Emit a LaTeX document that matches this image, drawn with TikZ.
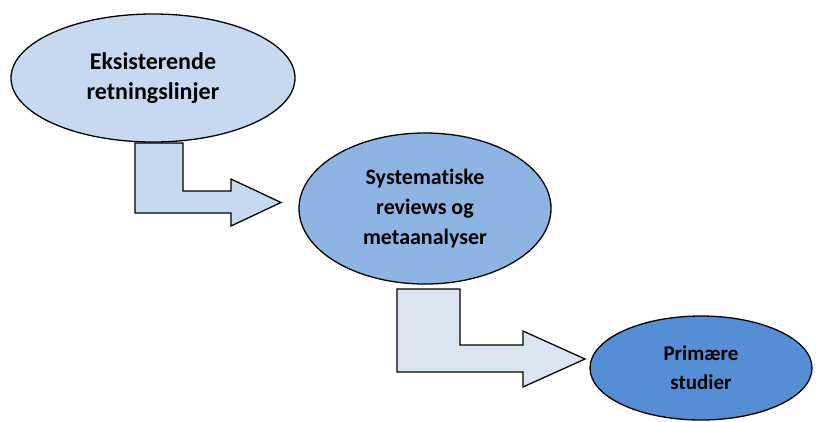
\documentclass[tikz,border=0pt]{standalone}
\usepackage{fontspec}
\setmainfont[Ligatures=CommonOff]{Carlito}
\usetikzlibrary{shapes.geometric}
\definecolor{eone}{HTML}{C6D9F1}
\definecolor{etwo}{HTML}{8EB4E3}
\definecolor{ethree}{HTML}{558ED5}
\definecolor{atwo}{HTML}{DBE5F1}
\tikzset{
  oval/.style={ellipse, draw=black, line width=1.3pt, inner sep=0pt, align=center,
    font=\bfseries\fontsize{21}{29}\selectfont},
  blockarrow/.style={draw=black, line width=1.3pt, line join=miter}
}
\begin{document}
\begin{tikzpicture}[x=1pt,y=-1pt]
\useasboundingbox (0,0) rectangle (816,421);
% block arrows (drawn first, under the ellipses)
\draw[blockarrow, fill=eone] (135,143) -- (135,213) -- (231,213) -- (231,226) -- (281,202.5) -- (231,179) -- (231,191) -- (183,191) -- (183,143) -- cycle;
\draw[blockarrow, fill=atwo] (397,289) -- (397,372) -- (523,372) -- (523,387) -- (585,359) -- (523,331) -- (523,345) -- (460,345) -- (460,289) -- cycle;
% ellipses
\node[oval, fill=eone, minimum width=284pt, minimum height=128pt, font=\bfseries\fontsize{24}{30}\selectfont] (e1) at (153,78) {Eksisterende\\retningslinjer};
\node[oval, fill=etwo, minimum width=252pt, minimum height=151pt, font=\bfseries\fontsize{22}{30}\selectfont] (e2) at (425,208.5) {Systematiske\\reviews og\\metaanalyser};
\node[oval, fill=ethree, minimum width=222pt, minimum height=104pt] (e3) at (701,368) {Primære\\studier};
\end{tikzpicture}
\end{document}
